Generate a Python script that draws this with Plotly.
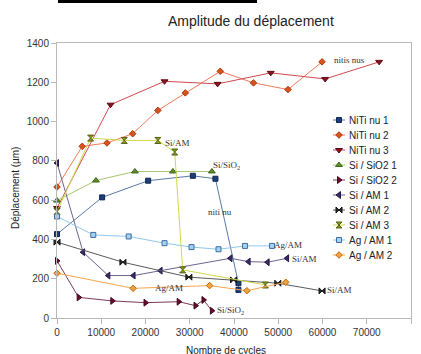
import plotly.graph_objects as go

# ---------------- data ----------------
niti1_x = [0, 10200, 20600, 30700, 35800, 41000, 41000]
niti1_y = [427, 614, 699, 724, 709, 177, 143]

niti2_x = [0, 5700, 11300, 17100, 22800, 29000, 36900, 44400, 52200, 59900]
niti2_y = [667, 874, 891, 938, 1057, 1146, 1256, 1197, 1163, 1304]

niti3_x = [0, 12100, 24300, 36300, 48300, 60600, 72800]
niti3_y = [560, 1086, 1205, 1192, 1248, 1217, 1304]

sisio1_x = [0, 8800, 17600, 26200, 35000]
sisio1_y = [598, 700, 746, 746, 746]

sisio2_x = [0, 4900, 12500, 20000, 27500, 31300, 33100, 35000]
sisio2_y = [291, 105, 87, 78, 83, 63, 92, 37]

siam1_x = [0, 5900, 11600, 17300, 23400, 39200, 43300, 47600, 52000]
siam1_y = [789, 335, 216, 216, 241, 304, 287, 284, 304]

siam2_x = [0, 14900, 29800, 39900, 49900, 59900]
siam2_y = [386, 284, 208, 194, 177, 138]

siam3_x = [0, 7600, 15200, 22800, 26600, 28400, 47100]
siam3_y = [542, 916, 904, 904, 845, 245, 168]

agam1_x = [0, 8200, 16200, 24300, 30400, 36500, 42500, 48600]
agam1_y = [517, 423, 415, 381, 361, 350, 367, 367]

agam2_x = [0, 17200, 34500, 42900, 51700]
agam2_y = [228, 151, 165, 139, 182]

series_names = ["NiTi nu 1", "NiTi nu 2", "NiTi nu 3", "Si / SiO2 1", "Si / SiO2 2",
                "Si / AM 1", "Si / AM 2", "Si / AM 3", "Ag / AM 1", "Ag / AM 2"]
series_x = [niti1_x, niti2_x, niti3_x, sisio1_x, sisio2_x, siam1_x, siam2_x, siam3_x, agam1_x, agam2_x]
series_y = [niti1_y, niti2_y, niti3_y, sisio1_y, sisio2_y, siam1_y, siam2_y, siam3_y, agam1_y, agam2_y]

x_ticks = [0, 10000, 20000, 30000, 40000, 50000, 60000, 70000, 80000]
y_ticks = [0, 200, 400, 600, 800, 1000, 1200, 1400]

# in-plot labels (text, x, y in data units)
label_text = ["nitis nus", "Si/AM", "Si/SiO<sub>2</sub>", "niti nu", "Ag/AM", "Si/AM",
              "Ag/AM", "Si/AM", "Si/SiO<sub>2</sub>"]
label_x = [66200, 27300, 38300, 36900, 52300, 55900, 25200, 63800, 39200]
label_y = [1311, 893, 775, 541, 372, 301, 153, 143, 36]

# ---------------- styles ----------------
symbols = ["square", "diamond", "triangle-down", "triangle-up", "triangle-right",
           "triangle-left", "bowtie", "hourglass", "square", "diamond"]
mfill = ["#1d3f78", "#d9531e", "#8a1420", "#5f8f2c", "#6a0d2c",
         "#3b2a66", "#2e2e2e", "#8a9a2a", "#a6d2f2", "#f2a23c"]
mline = ["#0f2550", "#a8380e", "#5e0a12", "#3f6318", "#45061a",
         "#241845", "#111111", "#56600f", "#3a6ea3", "#c4670f"]
lcol = ["#5c7aa8", "#f07a5a", "#cf4a50", "#a6c870", "#7b3a5e",
        "#6c6490", "#5a5a5a", "#cfd94a", "#90c8f0", "#f5a650"]
msize = [5, 5, 6, 6, 6, 6, 6, 6, 5, 5]

W, H = 421, 354
L, R, T, B = 57, 411, 43, 318


def pxx(p):
    return (p - L) / (R - L)


def pxy(p):
    return (B - p) / (B - T)


fig = go.Figure()

for i in range(len(series_names)):
    fig.add_trace(go.Scatter(
        x=series_x[i], y=series_y[i], name=series_names[i], mode="lines+markers",
        line=dict(color=lcol[i], width=1),
        marker=dict(symbol=symbols[i], size=msize[i], color=mfill[i],
                    line=dict(color=mline[i], width=1)),
        showlegend=False, cliponaxis=False))

# manual legend (compact rows like the original) on a pixel-unit overlay axis
for i in range(len(series_names)):
    yy = 120 + 15 * i
    fig.add_trace(go.Scatter(
        x=[333, 339, 345], y=[yy, yy, yy], xaxis="x2", yaxis="y2", mode="lines",
        line=dict(color=lcol[i], width=1), showlegend=False, hoverinfo="skip"))
    fig.add_trace(go.Scatter(
        x=[339], y=[yy], xaxis="x2", yaxis="y2", mode="markers",
        marker=dict(symbol=symbols[i], size=msize[i], color=mfill[i],
                    line=dict(color=mline[i], width=1)),
        showlegend=False, hoverinfo="skip"))

annotations = []
for i in range(len(series_names)):
    annotations.append(dict(x=347, y=120 + 15 * i, xref="x2", yref="y2", text=series_names[i],
                            showarrow=False, xanchor="left", yanchor="middle",
                            font=dict(family="Liberation Sans", size=10, color="#222222")))

for t, lx, ly in zip(label_text, label_x, label_y):
    annotations.append(dict(x=lx, y=ly, xref="x", yref="y", text=t, showarrow=False,
                            xanchor="center", yanchor="middle",
                            font=dict(family="Liberation Serif", size=9, color="#333333")))

annotations.append(dict(x=pxx(251), y=pxy(21), xref="paper", yref="paper",
                        text="Amplitude du déplacement", showarrow=False,
                        xanchor="center", yanchor="middle",
                        font=dict(family="Liberation Sans", size=14, color="#222222")))
annotations.append(dict(x=pxx(226), y=pxy(350), xref="paper", yref="paper",
                        text="Nombre de cycles", showarrow=False,
                        xanchor="center", yanchor="middle",
                        font=dict(family="Liberation Sans", size=10, color="#222222")))
annotations.append(dict(x=pxx(15), y=pxy(188), xref="paper", yref="paper",
                        text="Déplacement (µm)", showarrow=False, textangle=-90,
                        xanchor="center", yanchor="middle",
                        font=dict(family="Liberation Sans", size=10, color="#222222")))

shapes = [dict(type="rect", xref="paper", yref="paper", x0=pxx(58), x1=pxx(257),
               y0=pxy(3), y1=pxy(0), fillcolor="black", line=dict(width=0))]

axis_common = dict(showgrid=False, zeroline=False, showline=True, linecolor="#b8b8b8",
                   linewidth=1, mirror=True, ticks="outside", ticklen=5, tickcolor="#b8b8b8",
                   tickfont=dict(family="Liberation Sans", size=10, color="#333333"))

fig.update_layout(
    width=W, height=H,
    margin=dict(l=L, r=W - R, t=T, b=H - B),
    paper_bgcolor="white", plot_bgcolor="white",
    showlegend=False,
    xaxis=dict(range=[0, 80000], tickvals=x_ticks, ticktext=[str(v) for v in x_ticks], **axis_common),
    yaxis=dict(range=[0, 1400], tickvals=y_ticks, ticktext=[str(v) for v in y_ticks], **axis_common),
    xaxis2=dict(range=[L, R], overlaying="x", visible=False, anchor="y2"),
    yaxis2=dict(range=[B, T], overlaying="y", visible=False, anchor="x2"),
    xaxis3=dict(range=[0, 80000], overlaying="x", side="top", anchor="y3", tickvals=x_ticks,
                ticks="inside", ticklen=4, tickcolor="#b8b8b8", showticklabels=False,
                showgrid=False, zeroline=False, showline=False),
    yaxis3=dict(range=[0, 1400], overlaying="y", side="right", anchor="x3", tickvals=y_ticks,
                ticks="inside", ticklen=4, tickcolor="#b8b8b8", showticklabels=False,
                showgrid=False, zeroline=False, showline=False),
    annotations=annotations,
    shapes=shapes,
)

# remove the browser's default 8px page margin so the figure sits at the window's corner
fig.write_html("out.html", config={"displayModeBar": False},
               post_script="document.body.style.margin='0';")
